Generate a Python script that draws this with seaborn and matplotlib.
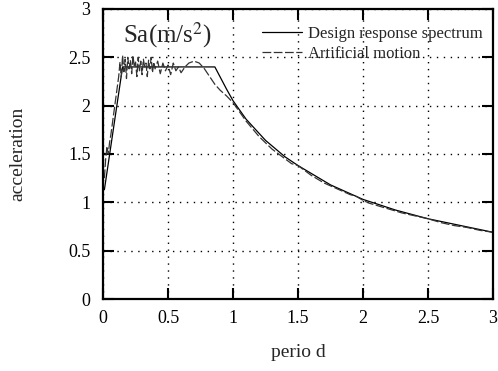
import numpy as np
import pandas as pd
import matplotlib
matplotlib.use("Agg")
import matplotlib.pyplot as plt
import seaborn as sns

design_T = [0.01, 0.15, 0.86, 0.95, 1.0, 1.1, 1.25, 1.4, 1.5, 1.75, 2.0, 2.25, 2.5, 2.75, 3.0]
design_A = [1.13, 2.40, 2.40, 2.17, 2.05, 1.86, 1.64, 1.47, 1.38, 1.18, 1.03, 0.92, 0.83, 0.76, 0.69]

art_T = [0.01, 0.02, 0.03, 0.04, 0.05, 0.06, 0.08, 0.10, 0.12, 0.13, 0.14, 0.15, 0.16, 0.17,
         0.18, 0.19, 0.20, 0.21, 0.22, 0.23, 0.24, 0.25, 0.26, 0.27, 0.28, 0.29, 0.30,
         0.31, 0.32, 0.33, 0.34, 0.35, 0.36, 0.37, 0.38, 0.39, 0.40, 0.42, 0.44, 0.46,
         0.48, 0.50, 0.52, 0.54, 0.56, 0.58, 0.60, 0.63, 0.66, 0.70, 0.74, 0.78, 0.82,
         0.86, 0.90, 0.95, 1.0, 1.1, 1.2, 1.3, 1.4, 1.45, 1.5, 1.6, 1.7, 1.8, 1.9,
         1.95, 2.0, 2.05, 2.1, 2.2, 2.3, 2.4, 2.5, 2.6, 2.7, 2.8, 2.9, 3.0]
art_A = [1.25, 1.45, 1.58, 1.50, 1.62, 1.70, 1.90, 2.10, 2.30, 2.45, 2.30, 2.52, 2.35, 2.48,
         2.28, 2.50, 2.38, 2.47, 2.33, 2.52, 2.40, 2.45, 2.30, 2.50, 2.36, 2.46, 2.32,
         2.48, 2.40, 2.44, 2.30, 2.47, 2.38, 2.50, 2.34, 2.45, 2.38, 2.46, 2.33, 2.44,
         2.36, 2.42, 2.32, 2.44, 2.36, 2.40, 2.34, 2.40, 2.44, 2.46, 2.44, 2.38, 2.30,
         2.22, 2.16, 2.10, 2.03, 1.84, 1.68, 1.55, 1.45, 1.40, 1.38, 1.28, 1.20, 1.14, 1.08,
         1.06, 1.02, 0.99, 0.97, 0.93, 0.89, 0.86, 0.83, 0.79, 0.76, 0.74, 0.71, 0.69]

x_ticks = [0, 0.5, 1, 1.5, 2, 2.5, 3]
x_labels = ["0", "0.5", "1", "1.5", "2", "2.5", "3"]
y_ticks = [0, 0.5, 1, 1.5, 2, 2.5, 3]
y_labels = ["0", "0.5", "1", "1.5", "2", "2.5", "3"]

sns.set_theme(style="ticks")
plt.rcParams["font.family"] = ["Liberation Serif", "DejaVu Serif"]
plt.rcParams["mathtext.fontset"] = "stix"

fig = plt.figure(figsize=(4.98, 3.71), dpi=100)
ax = fig.add_axes([0.207, 0.194, 0.783, 0.782])

d1 = pd.DataFrame({"T": design_T, "A": design_A})
d2 = pd.DataFrame({"T": art_T, "A": art_A})
sns.lineplot(data=d1, x="T", y="A", ax=ax, color="black", lw=0.9, sort=False,
             estimator=None, label="Design response spectrum")
sns.lineplot(data=d2, x="T", y="A", ax=ax, color="#333333", lw=0.9, sort=False,
             estimator=None, linestyle=(0, (7, 2)), label="Artificial motion")

ax.set_xlim(0, 3)
ax.set_ylim(0, 3)
ax.set_xticks(x_ticks)
ax.set_xticklabels(x_labels)
ax.set_yticks(y_ticks)
ax.set_yticklabels(y_labels)
ax.tick_params(direction="in", length=8, width=1.5, top=True, right=True,
               labelsize=13, colors="black")
ax.tick_params(axis="x", pad=8)
ax.tick_params(axis="y", pad=9)
for s in ax.spines.values():
    s.set_linewidth(1.6)
    s.set_color("black")
ax.grid(True, color="black", linestyle=(0, (1, 4)), linewidth=1.0)
ax.set_xlabel("perio d", fontsize=14, labelpad=12)
ax.set_ylabel("acceleration", fontsize=14, labelpad=30)
ax.text(0.15, 2.65, r"Sa(m/s$^2$)", fontsize=18)
leg = ax.legend(loc="upper right", bbox_to_anchor=(1.0, 0.975), frameon=False,
                fontsize=12, handlelength=2.4, borderaxespad=0.2, labelspacing=0.25,
                handletextpad=0.4)
fig.savefig("out.png", dpi=100)
